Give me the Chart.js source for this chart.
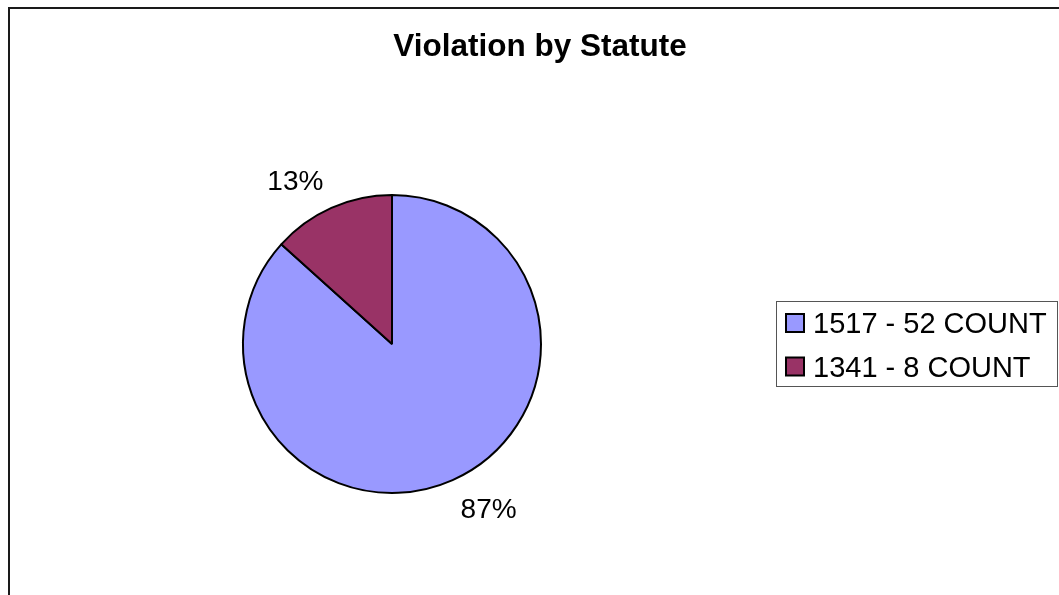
<!DOCTYPE html>
<html><head><meta charset="utf-8">
<script src="https://cdn.jsdelivr.net/npm/chart.js@4/dist/chart.umd.min.js"></script>
<style>html,body{margin:0;padding:0;background:#fff;overflow:hidden}#wrap{width:1059px;height:595px;position:relative}canvas{display:block}</style>
</head><body><div id="wrap"><canvas id="c" width="1059" height="595"></canvas></div>
<script>
const chartTitle = 'Violation by Statute';
const categories = ['1517 - 52 COUNT', '1341 - 8 COUNT'];
const counts = [52, 8];
const colors = ['#9999FF', '#993366'];

const FONT = '"Liberation Sans", Arial, sans-serif';

const decor = {
  id: 'decor',
  afterDraw(chart) {
    const ctx = chart.ctx;
    ctx.save();
    // outer frame
    ctx.strokeStyle = '#1a1a1a';
    ctx.lineWidth = 2;
    ctx.strokeRect(9, 8, 1070, 600);
    // title
    ctx.fillStyle = '#000';
    ctx.font = 'bold 31.5px ' + FONT;
    ctx.textAlign = 'center';
    ctx.textBaseline = 'alphabetic';
    ctx.fillText(chartTitle, 540, 56);
    // percentage labels
    const meta = chart.getDatasetMeta(0);
    const total = counts.reduce((a, b) => a + b, 0);
    ctx.font = '28px ' + FONT;
    ctx.textAlign = 'center';
    meta.data.forEach((arc, i) => {
      const p = arc.getProps(['x', 'y', 'startAngle', 'endAngle', 'outerRadius'], true);
      const mid = (p.startAngle + p.endAngle) / 2;
      const px = p.x + Math.cos(mid) * p.outerRadius;
      const py = p.y + Math.sin(mid) * p.outerRadius;
      const txt = Math.round(counts[i] / total * 100) + '%';
      const w = ctx.measureText(txt).width;
      const h = 28 * 0.716;
      const cx = px + Math.sign(Math.cos(mid)) * (w / 2 + 8);
      const cy = py + Math.sign(Math.sin(mid)) * (h / 2 + 18);
      ctx.fillText(txt, cx, cy + h / 2);
    });
    // legend
    ctx.strokeStyle = '#555';
    ctx.lineWidth = 1;
    ctx.strokeRect(776.5, 301.5, 281, 85);
    ctx.font = '29px ' + FONT;
    ctx.textAlign = 'left';
    const rowCenters = [323, 366.5];
    categories.forEach((cat, i) => {
      const cy = rowCenters[i];
      ctx.fillStyle = colors[i];
      ctx.fillRect(786, cy - 9, 18, 18);
      ctx.strokeStyle = '#000';
      ctx.lineWidth = 2;
      ctx.strokeRect(786, cy - 9, 18, 18);
      ctx.fillStyle = '#000';
      ctx.fillText(cat, 813, cy + 29 * 0.716 / 2);
    });
    ctx.restore();
  }
};

new Chart(document.getElementById('c'), {
  type: 'pie',
  data: {
    labels: categories,
    datasets: [{
      data: counts,
      backgroundColor: colors,
      borderColor: '#000',
      borderWidth: 2,
      hoverOffset: 0
    }]
  },
  options: {
    responsive: false,
    animation: false,
    radius: 149,
    layout: { padding: { left: 0, right: 275, top: 93, bottom: 0 } },
    plugins: {
      legend: { display: false },
      title: { display: false },
      tooltip: { enabled: false }
    }
  },
  plugins: [decor]
});
</script>
</body></html>
